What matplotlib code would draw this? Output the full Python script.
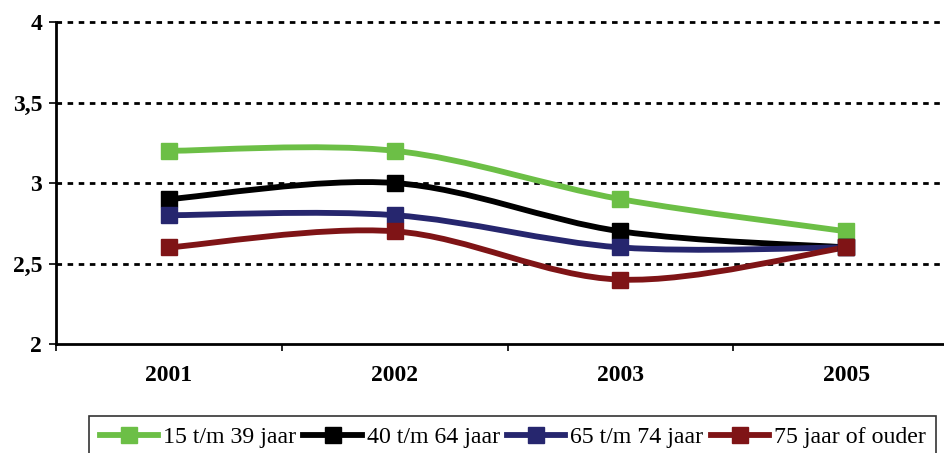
import numpy as np
import matplotlib.pyplot as plt
from matplotlib.path import Path
from matplotlib.patches import PathPatch
from matplotlib.lines import Line2D

plt.rcParams['font.family'] = ['Liberation Serif', 'DejaVu Serif']

years = ['2001', '2002', '2003', '2005']
labels = ['15 t/m 39 jaar', '40 t/m 64 jaar', '65 t/m 74 jaar', '75 jaar of ouder']
v15_39 = [3.2, 3.2, 2.9, 2.7]
v40_64 = [2.9, 3.0, 2.7, 2.6]
v65_74 = [2.8, 2.8, 2.6, 2.6]
v75 = [2.6, 2.7, 2.4, 2.6]
series = [v15_39, v40_64, v65_74, v75]
colors = ['#6cbf46', '#000000', '#26266e', '#7f1416']


def smooth_path(x, y):
    # Excel-style smoothed line: Catmull-Rom segments as cubic Beziers
    pts = np.column_stack([x, y]).astype(float)
    verts = [pts[0]]
    codes = [Path.MOVETO]
    n = len(pts)
    for i in range(n - 1):
        p0 = pts[i - 1] if i > 0 else pts[i]
        p1 = pts[i]
        p2 = pts[i + 1]
        p3 = pts[i + 2] if i + 2 < n else pts[i + 1]
        c1 = p1 + (p2 - p0) / 6
        c2 = p2 - (p3 - p1) / 6
        verts += [c1, c2, p2]
        codes += [Path.CURVE4] * 3
    return Path(verts, codes)


fig = plt.figure(figsize=(9.45, 4.53), dpi=100)
ax = fig.add_axes([0.0593, 0.2406, 0.9556, 0.7108])

xs = np.arange(len(years))
for vals, c in zip(series, colors):
    ax.add_patch(PathPatch(smooth_path(xs, vals), facecolor='none', edgecolor=c,
                           lw=4.2, capstyle='round', joinstyle='round', zorder=3))
    ax.plot(xs, vals, linestyle='none', marker='s', markersize=11, color=c, zorder=4)

ax.set_xlim(-0.5, 3.5)
ax.set_ylim(2, 4)
ax.set_yticks([2, 2.5, 3, 3.5, 4])
ax.set_yticklabels(['2', '2,5', '3', '3,5', '4'], fontsize=17, fontweight='bold')
for yv in [2.5, 3, 3.5, 4]:
    ax.axhline(yv, color='black', lw=2, linestyle=(0, (2, 2)), zorder=1, clip_on=False)

ax.set_xticks(xs)
ax.set_xticklabels(years, fontsize=17, fontweight='bold')
ax.tick_params(axis='x', which='major', length=0, pad=15)
ax.set_xticks(np.arange(-0.5, 4, 1), minor=True)
ax.tick_params(axis='x', which='minor', length=5, width=1.2, direction='out')
ax.tick_params(axis='y', length=5, width=1.2, direction='out', pad=5)

ax.spines['top'].set_visible(False)
ax.spines['right'].set_visible(False)
ax.spines['left'].set_linewidth(2)
ax.spines['bottom'].set_linewidth(2)

handles = [Line2D([], [], color=c, lw=4.2, marker='s', markersize=11) for c in colors]
leg = fig.legend(handles, labels, loc='upper left', bbox_to_anchor=(89 / 945, 1 - 416 / 453),
                 ncol=4, fontsize=17.2, frameon=True, fancybox=False, edgecolor='black',
                 handlelength=2.45, handletextpad=0.2, columnspacing=0.3, borderpad=0.45,
                 borderaxespad=0)
leg.get_frame().set_linewidth(1.2)

fig.savefig('out.png', dpi=100)
